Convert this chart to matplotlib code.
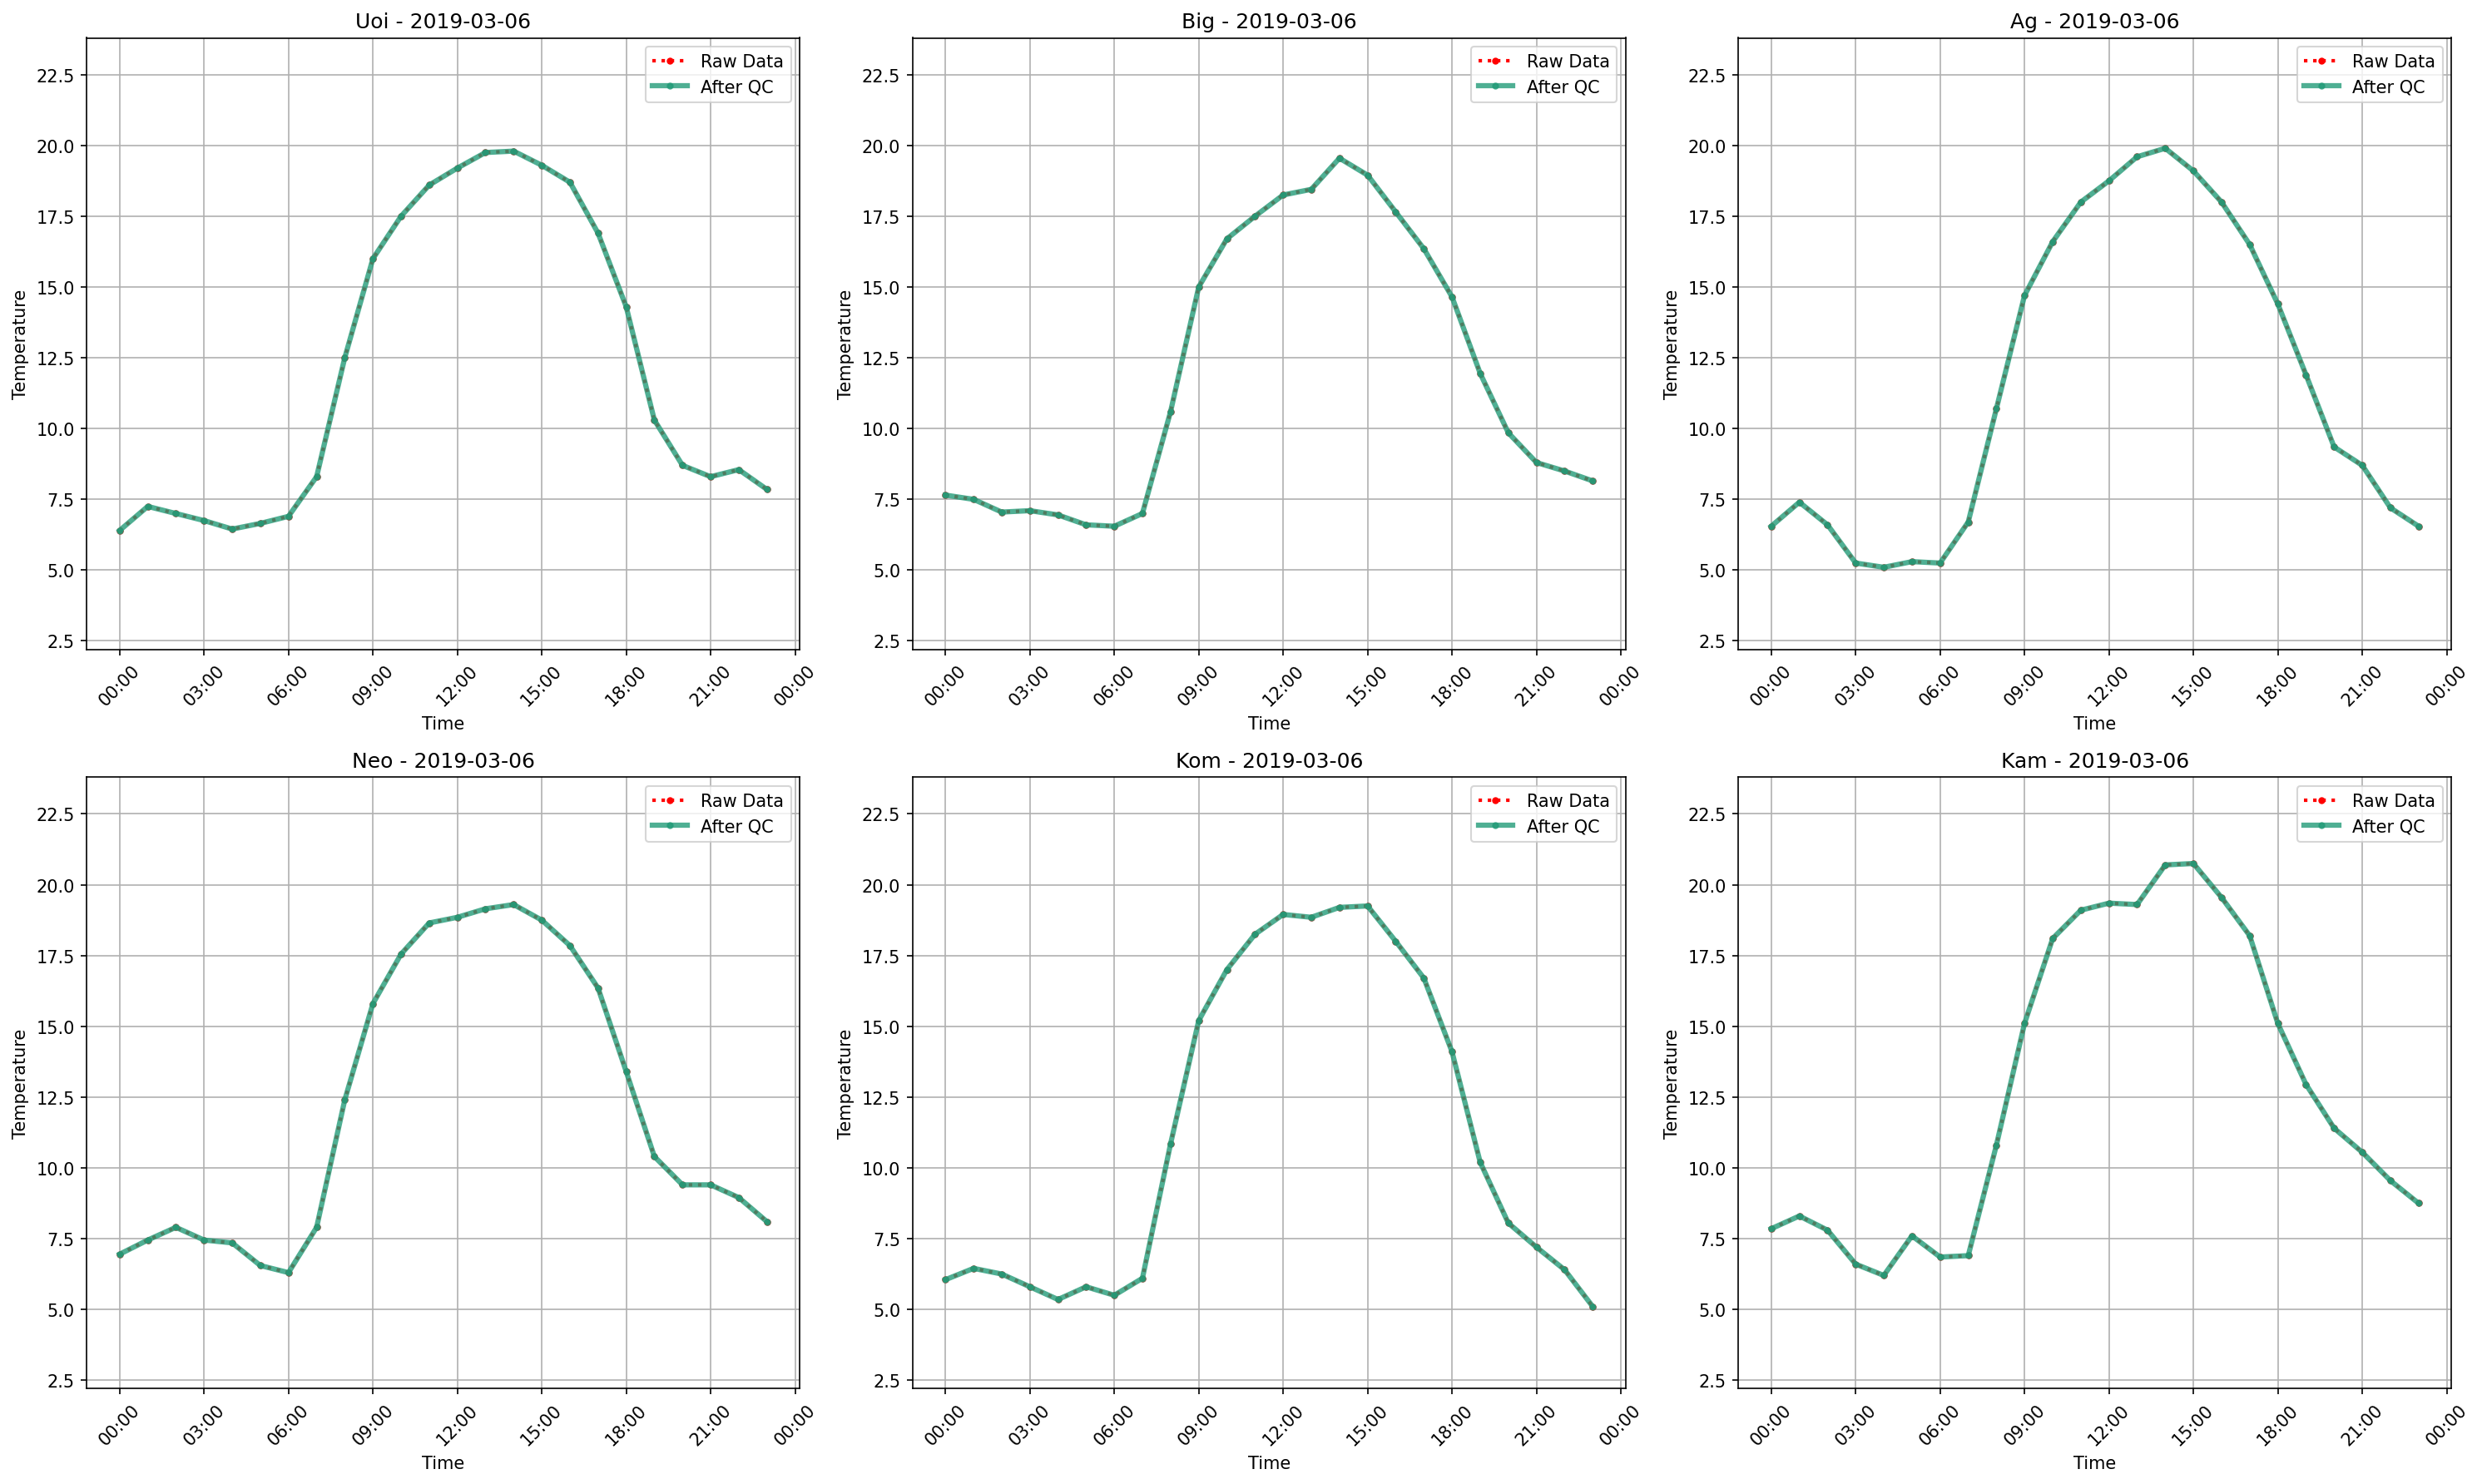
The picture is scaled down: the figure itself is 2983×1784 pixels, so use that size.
import matplotlib
matplotlib.use("Agg")
import matplotlib.pyplot as plt
import matplotlib.dates as mdates
import pandas as pd

date = "2019-03-06"
stations = ["Uoi", "Big", "Ag", "Neo", "Kom", "Kam"]
uoi = [6.4, 7.25, 7.0, 6.75, 6.45, 6.65, 6.9, 8.3, 12.5, 16.0, 17.5, 18.6, 19.2, 19.75, 19.8, 19.3, 18.7, 16.9, 14.3, 10.3, 8.7, 8.3, 8.55, 7.85]
big = [7.65, 7.5, 7.05, 7.1, 6.95, 6.6, 6.55, 7.0, 10.6, 15.0, 16.7, 17.5, 18.25, 18.45, 19.55, 18.95, 17.65, 16.35, 14.65, 11.95, 9.85, 8.8, 8.5, 8.15]
ag = [6.55, 7.4, 6.6, 5.25, 5.1, 5.3, 5.25, 6.7, 10.7, 14.7, 16.6, 18.0, 18.75, 19.6, 19.9, 19.1, 18.0, 16.5, 14.4, 11.9, 9.35, 8.7, 7.2, 6.55]
neo = [6.95, 7.45, 7.9, 7.45, 7.35, 6.55, 6.3, 7.9, 12.4, 15.8, 17.55, 18.65, 18.85, 19.15, 19.3, 18.75, 17.85, 16.35, 13.4, 10.4, 9.4, 9.4, 8.95, 8.1]
kom = [6.05, 6.45, 6.25, 5.8, 5.35, 5.8, 5.5, 6.1, 10.85, 15.2, 17.0, 18.25, 18.95, 18.85, 19.2, 19.25, 18.0, 16.7, 14.1, 10.2, 8.05, 7.2, 6.4, 5.1]
kam = [7.85, 8.3, 7.8, 6.6, 6.2, 7.6, 6.85, 6.9, 10.8, 15.1, 18.1, 19.1, 19.35, 19.3, 20.7, 20.75, 19.55, 18.2, 15.1, 12.95, 11.4, 10.55, 9.55, 8.75]
series = [uoi, big, ag, neo, kom, kam]

times = pd.date_range(date, periods=24, freq="h")

figure, axes = plt.subplots(2, 3, figsize=(20, 12), dpi=150)
for axis, name, values in zip(axes.flat, stations, series):
    axis.plot(times, values, color="red", linestyle=":", marker="o", markersize=3, linewidth=2, label="Raw Data")
    axis.plot(times, values, color="#239b78", marker="o", markersize=3, linewidth=3, alpha=0.8, label="After QC")
    axis.set_title(f"{name} - {date}", fontsize=12)
    axis.set_xlabel("Time")
    axis.set_ylabel("Temperature")
    axis.set_ylim(2.2, 23.8)
    axis.xaxis.set_major_locator(mdates.HourLocator(byhour=range(0, 24, 3)))
    axis.xaxis.set_major_formatter(mdates.DateFormatter("%H:%M"))
    axis.set_xlim(times[0] - pd.Timedelta(minutes=70), times[-1] + pd.Timedelta(minutes=70))
    axis.tick_params(axis="x", rotation=45)
    axis.grid(True)
    axis.legend(loc="upper right")
figure.tight_layout()
figure.savefig("out.png", dpi=150, bbox_inches="tight")
